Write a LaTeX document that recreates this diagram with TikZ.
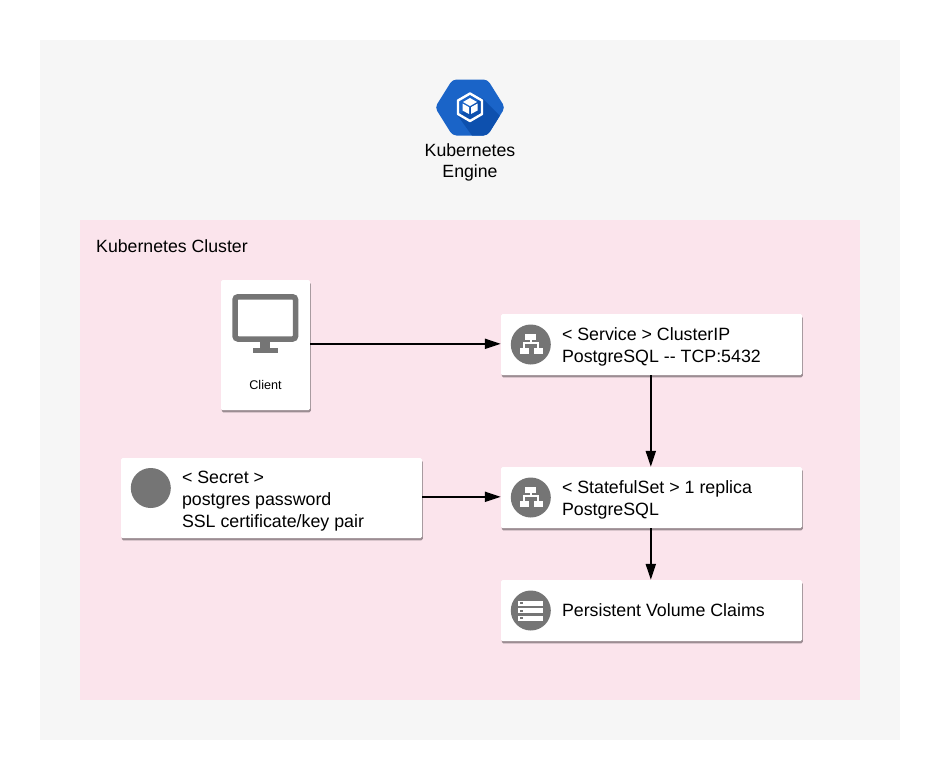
\documentclass[tikz,border=0pt]{standalone}
\usepackage{fontspec}
\setmainfont{Liberation Sans}
\usetikzlibrary{arrows.meta}
\definecolor{paneGray}{HTML}{F6F6F6}
\definecolor{clusterPink}{HTML}{FBE4EC}
\definecolor{iconGray}{HTML}{757575}
\definecolor{edgeShade}{HTML}{9C8D93}
\definecolor{engineBlue}{HTML}{1A64C8}
\definecolor{engineDark}{HTML}{0D50AE}
\tikzset{
    cardbox/.style={fill=white,rounded corners=1.5pt,inner sep=0pt,minimum height=61pt,minimum width=301pt,
        preaction={fill=edgeShade,transform canvas={xshift=0.8pt,yshift=-2.4pt}}},
    iconcircle/.style={circle,fill=iconGray,inner sep=0pt,minimum size=40pt},
    cardtext/.style={anchor=west,align=left,inner sep=0pt,font=\fontsize{17.8}{21.8}\selectfont},
    flow/.style={-{Triangle[length=16pt,width=10pt]},line width=2pt,black},
    hierarchy/.pic={
        \fill[white] (-5.5,-10.5) rectangle (5.5,-5);
        \fill[white] (-11,3.2) rectangle (-2,9.8);
        \fill[white] (3,3.2) rectangle (12,9.8);
        \draw[white,line width=1.8pt] (0,-5) -- (0,-1.5) (-6.5,3.2) -- (-6.5,-1.5) -- (7.5,-1.5) -- (7.5,3.2);
    },
    serverbar/.pic={
        \fill[white] (-12.5,-2.5) rectangle (12.5,2.5);
        \fill[iconGray] (-10.5,-1) rectangle (-8,1);
    }
}
\begin{document}
\begin{tikzpicture}[x=1pt,y=-1pt,node distance=153pt]
    \useasboundingbox (0,0) rectangle (940,780);
    \node[fill=paneGray,minimum width=860pt,minimum height=700pt,inner sep=0pt] (pane) at (470,390) {};
    \node[fill=clusterPink,minimum width=780pt,minimum height=480pt,inner sep=0pt] (cluster) at (470,460) {};
    \node[anchor=west,inner sep=0pt,font=\fontsize{17.7}{21}\selectfont] (clusterlabel) at (96,246.5) {Kubernetes Cluster};

    % engine icon
    \fill[engineBlue,rounded corners=4pt] (435,107.5) -- (452.5,79.5) -- (487.5,79.5) -- (505,107.5) -- (487.5,135.5) -- (452.5,135.5) -- cycle;
    \begin{scope}
        \clip[rounded corners=4pt] (435,107.5) -- (452.5,79.5) -- (487.5,79.5) -- (505,107.5) -- (487.5,135.5) -- (452.5,135.5) -- cycle;
        \fill[engineDark] (482,98) -- (520,136) -- (490,150) -- (473,137) -- (458,116) -- cycle;
    \end{scope}
    \draw[white,line width=2.4pt,line join=round] (470,93.5) -- (482,100.5) -- (482,114) -- (470,121) -- (458,114) -- (458,100.5) -- cycle;
    \fill[white] (470,98) -- (477,102) -- (470,106) -- (463,102) -- cycle;
    \fill[white] (462.5,103.5) -- (469,107.2) -- (469,114) -- (462.5,110.5) -- cycle;
    \fill[white] (477.5,103.5) -- (471,107.2) -- (471,114) -- (477.5,110.5) -- cycle;
    \node[align=center,inner sep=0pt,font=\fontsize{17.7}{21}\selectfont] (enginelabel) at (470,162.5) {Kubernetes\\Engine};

    % client
    \node[cardbox,minimum width=89pt,minimum height=130pt] (client) at (265.5,345) {};
    \draw[iconGray,line width=5.5pt,rounded corners=3pt] (235,296.8) rectangle (295.6,339);
    \fill[iconGray] (260,341) rectangle (270,348.5);
    \fill[iconGray] (253,348) rectangle (278,353);
    \node[inner sep=0pt,font=\fontsize{12.6}{14}\selectfont] (clientlabel) at (265.5,385) {Client};

    % cards
    \node[cardbox] (service) at (651.5,344.5) {};
    \node[cardbox,below of=service] (statefulset) {};
    \node[cardbox,below of=statefulset,node distance=113pt] (pvc) {};
    \node[cardbox,minimum height=80pt] (secret) at (271.5,498) {};

    \node[iconcircle,xshift=30pt] (serviceicon) at (service.west) {};
    \node[iconcircle,xshift=30pt] (statefulseticon) at (statefulset.west) {};
    \node[iconcircle,xshift=30pt] (pvcicon) at (pvc.west) {};
    \node[iconcircle,xshift=30pt,yshift=10pt] (secreticon) at (secret.west) {};
    \pic at (serviceicon) {hierarchy};
    \pic at (statefulseticon) {hierarchy};
    \pic at ([yshift=7.5pt]pvcicon.center) {serverbar};
    \pic at (pvcicon) {serverbar};
    \pic at ([yshift=-7.5pt]pvcicon.center) {serverbar};

    \node[cardtext,xshift=61pt,yshift=-2.4pt] (servicetext) at (service.west) {< Service > ClusterIP\\PostgreSQL -{}- TCP:5432};
    \node[cardtext,xshift=61pt,yshift=-2.4pt] (statefulsettext) at (statefulset.west) {< StatefulSet > 1 replica\\PostgreSQL};
    \node[cardtext,xshift=61pt] (pvctext) at (pvc.west) {Persistent Volume Claims};
    \node[cardtext,xshift=61pt,yshift=-3pt] (secrettext) at (secret.west) {< Secret >\\postgres password\\SSL certificate/key pair};

    % edges
    \draw[flow] ([yshift=0.7pt]client.east |- service.west) -- ([yshift=0.7pt]service.west);
    \draw[flow] ([xshift=-0.7pt]service.south) -- ([xshift=-0.7pt]statefulset.north);
    \draw[flow] ([yshift=0.7pt]secret.east |- statefulset.west) -- ([yshift=0.7pt]statefulset.west);
    \draw[flow] ([xshift=-0.7pt]statefulset.south) -- ([xshift=-0.7pt]pvc.north);
\end{tikzpicture}
\end{document}
